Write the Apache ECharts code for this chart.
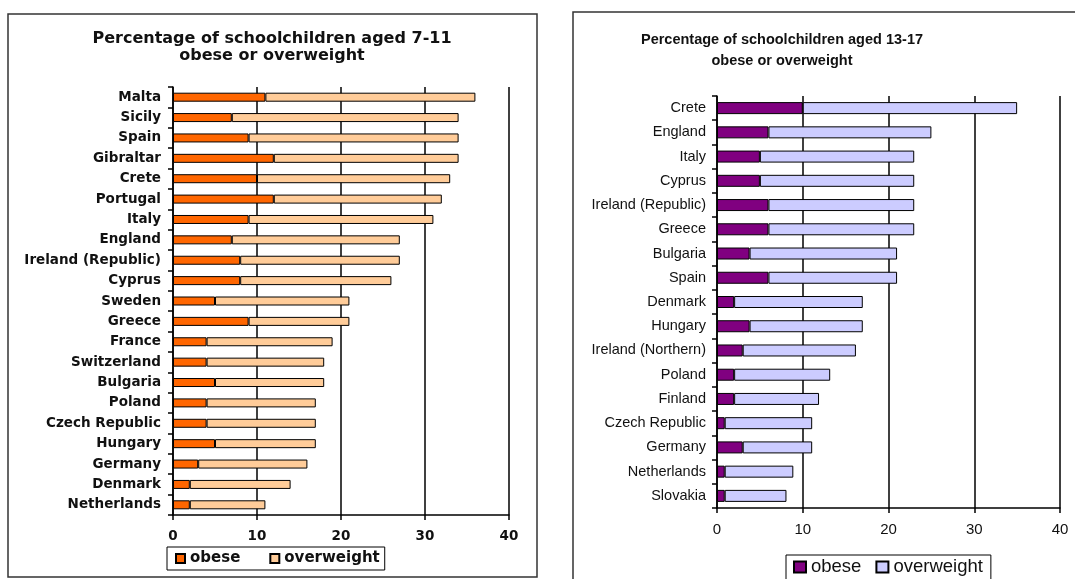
<!DOCTYPE html>
<html>
<head>
<meta charset="utf-8">
<script src="https://cdn.jsdelivr.net/npm/echarts@6/dist/echarts.min.js"></script>
<style>
  html, body { margin: 0; padding: 0; background: #fff; }
  #wrap { position: relative; width: 1075px; height: 579px; overflow: hidden; }
  #young { position: absolute; left: 0; top: 0; width: 560px; height: 579px; }
  #teen { position: absolute; left: 560px; top: 0; width: 515px; height: 579px; }
</style>
</head>
<body>
<div id="wrap">
  <div id="young"></div>
  <div id="teen"></div>
</div>
<script>
// Ages 7-11: countries from top to bottom, percentages per segment
const youngCountries = ['Malta', 'Sicily', 'Spain', 'Gibraltar', 'Crete', 'Portugal', 'Italy', 'England',
  'Ireland (Republic)', 'Cyprus', 'Sweden', 'Greece', 'France', 'Switzerland', 'Bulgaria', 'Poland',
  'Czech Republic', 'Hungary', 'Germany', 'Denmark', 'Netherlands'];
const youngObese = [11, 7, 9, 12, 10, 12, 9, 7, 8, 8, 5, 9, 4, 4, 5, 4, 4, 5, 3, 2, 2];
const youngOverweight = [25, 27, 25, 22, 23, 20, 22, 20, 19, 18, 16, 12, 15, 14, 13, 13, 13, 12, 13, 12, 9];

// Ages 13-17
const teenCountries = ['Crete', 'England', 'Italy', 'Cyprus', 'Ireland (Republic)', 'Greece', 'Bulgaria',
  'Spain', 'Denmark', 'Hungary', 'Ireland (Northern)', 'Poland', 'Finland', 'Czech Republic', 'Germany',
  'Netherlands', 'Slovakia'];
const teenObese = [10, 6, 5, 5, 6, 6, 3.8, 6, 2, 3.8, 3, 2, 2, 0.9, 3, 0.9, 0.9];
const teenOverweight = [25, 19, 18, 18, 17, 17, 17.2, 15, 15, 13.2, 13.2, 11.2, 9.9, 10.2, 8.1, 8, 7.2];

const pctTicks = { min: 0, max: 40, interval: 10 };
const seriesNames = ['obese', 'overweight'];

function buildOption(cfg) {
  const font = cfg.font;
  return {
    animation: false,
    title: {
      text: cfg.title,
      left: cfg.titleX,
      top: cfg.titleY,
      textAlign: 'center',
      padding: 0,
      textStyle: {
        fontFamily: font, fontWeight: cfg.titleWeight, fontSize: cfg.titleSize,
        lineHeight: cfg.titleLine, color: '#111'
      }
    },
    legend: {
      data: seriesNames,
      left: cfg.legend.left,
      top: cfg.legend.top,
      orient: 'horizontal',
      icon: 'rect',
      selectedMode: false,
      itemWidth: cfg.legend.iw,
      itemHeight: cfg.legend.ih,
      itemGap: cfg.legend.gap,
      padding: cfg.legend.padding,
      borderColor: '#000',
      borderWidth: 1,
      textStyle: {
        fontFamily: font, fontWeight: cfg.legend.weight, fontSize: cfg.legend.size,
        lineHeight: cfg.legend.line, color: '#111'
      }
    },
    graphic: [{
      type: 'rect',
      shape: cfg.frame,
      style: { fill: 'none', stroke: '#333', lineWidth: 1.5 },
      silent: true,
      z: 0
    }],
    grid: cfg.grid,
    xAxis: {
      type: 'value',
      min: pctTicks.min, max: pctTicks.max, interval: pctTicks.interval,
      axisLine: { show: true, lineStyle: { color: '#000', width: 1.5 } },
      axisTick: { show: true, length: 5, lineStyle: { color: '#000', width: 1.5 } },
      splitLine: { show: true, lineStyle: { color: '#000', width: 1.5 } },
      axisLabel: {
        margin: cfg.xMargin, color: '#111', fontFamily: font,
        fontWeight: cfg.tickWeight, fontSize: cfg.tickSize
      }
    },
    yAxis: {
      type: 'category',
      inverse: true,
      data: cfg.categories,
      axisLine: { show: true, lineStyle: { color: '#000', width: 1.5 } },
      axisTick: { show: true, length: 5, lineStyle: { color: '#000', width: 1.5 } },
      axisLabel: {
        margin: cfg.yMargin, color: '#111', fontFamily: font,
        fontWeight: cfg.labelWeight, fontSize: cfg.labelSize
      }
    },
    series: [
      {
        name: seriesNames[0], type: 'bar', stack: 'pct', barWidth: cfg.barWidth,
        data: cfg.obese,
        itemStyle: { color: cfg.colors[0], borderColor: '#000', borderWidth: 1 },
        emphasis: { disabled: true }
      },
      {
        name: seriesNames[1], type: 'bar', stack: 'pct', barWidth: cfg.barWidth,
        data: cfg.overweight,
        itemStyle: { color: cfg.colors[1], borderColor: '#000', borderWidth: 1 },
        emphasis: { disabled: true }
      }
    ]
  };
}

const youngChart = echarts.init(document.getElementById('young'), null, { renderer: 'canvas' });
youngChart.setOption(buildOption({
  font: '"DejaVu Sans", sans-serif',
  title: 'Percentage of schoolchildren aged 7-11\nobese or overweight',
  titleX: 272, titleY: 30, titleSize: 16, titleLine: 17, titleWeight: 'bold',
  legend: { left: 167, top: 547, iw: 9, ih: 9, gap: 29, padding: [4, 5, 4, 8],
            size: 15, line: 15, weight: 'bold' },
  frame: { x: 8, y: 14, width: 529, height: 563 },
  grid: { left: 173, top: 87, width: 336, height: 428 },
  xMargin: 14, yMargin: 12,
  tickSize: 13.5, tickWeight: 'bold',
  labelSize: 13.5, labelWeight: 'bold',
  categories: youngCountries,
  obese: youngObese,
  overweight: youngOverweight,
  barWidth: 9,
  colors: ['#FF6600', '#FFCC99']
}));

const teenChart = echarts.init(document.getElementById('teen'), null, { renderer: 'canvas' });
teenChart.setOption(buildOption({
  font: '"Liberation Sans", Arial, sans-serif',
  title: 'Percentage of schoolchildren aged 13-17\nobese or overweight',
  titleX: 222, titleY: 29, titleSize: 14.5, titleLine: 21, titleWeight: 'bold',
  legend: { left: 226, top: 555, iw: 12, ih: 11, gap: 14, padding: [2, 8, 3, 7],
            size: 18.5, line: 20, weight: 'normal' },
  frame: { x: 13, y: 12, width: 600, height: 600 },
  grid: { left: 157, top: 96, width: 343, height: 412 },
  xMargin: 14, yMargin: 11,
  tickSize: 15, tickWeight: 'normal',
  labelSize: 14.5, labelWeight: 'normal',
  categories: teenCountries,
  obese: teenObese,
  overweight: teenOverweight,
  barWidth: 12,
  colors: ['#800080', '#CCCCFF']
}));
</script>
</body>
</html>
